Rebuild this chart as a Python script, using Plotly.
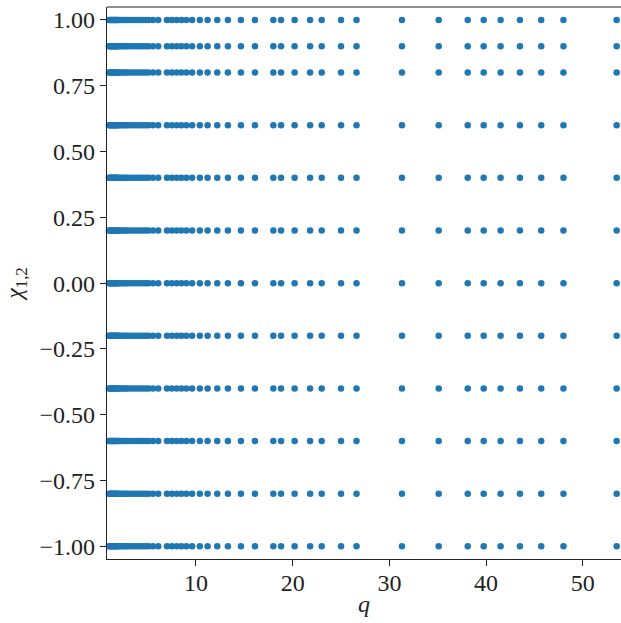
import plotly.graph_objects as go

# mass ratio values q (same set for every spin value)
q_values = [1.0, 1.1, 1.2, 1.3, 1.4, 1.5, 1.6, 1.7, 1.8, 1.9, 2.0, 2.2, 2.4, 2.6, 2.8,
            3.0, 3.3, 3.6, 3.9, 4.2, 4.5, 4.8, 5.1, 5.55, 6.1, 7.0, 7.5, 8.0, 8.5, 9.0,
            9.6, 10.4, 11.2, 12.2, 13.3, 14.65, 16.1, 18.0, 18.8, 20.2, 21.8, 23.0,
            25.0, 26.6, 31.3, 35.1, 38.1, 39.75, 41.5, 43.5, 45.7, 48.0, 53.5]
# spin values chi_{1,2}
chi_values = [1.0, 0.9, 0.8, 0.6, 0.4, 0.2, 0.0, -0.2, -0.4, -0.6, -0.8, -1.0]

y_tickvals = [1.0, 0.75, 0.5, 0.25, 0.0, -0.25, -0.5, -0.75, -1.0]
y_ticktext = ["1.00", "0.75", "0.50", "0.25", "0.00", "−0.25", "−0.50", "−0.75", "−1.00"]
x_tickvals = [10, 20, 30, 40, 50]
x_ticktext = ["10", "20", "30", "40", "50"]

xs, ys = [], []
for c in chi_values:
    for q in q_values:
        xs.append(q)
        ys.append(c)

fig = go.Figure(go.Scatter(
    x=xs, y=ys, mode="markers",
    marker=dict(size=6.5, color="#1f77b4", line=dict(width=0)),
    cliponaxis=False,
))

font = dict(family="Liberation Serif, serif", size=24, color="#222222")
fig.update_layout(
    width=621, height=623,
    margin=dict(l=107, r=0, t=7, b=64),
    paper_bgcolor="white", plot_bgcolor="white",
    showlegend=False,
    font=font,
    xaxis=dict(
        range=[0.8, 53.95], tickvals=x_tickvals, ticktext=x_ticktext,
        showgrid=False, zeroline=False, showline=True, linecolor="#222222", linewidth=1.2,
        ticks="outside", ticklen=6, tickwidth=1.3, tickcolor="#222222",
        ticklabelstandoff=-4,
        title=dict(text="<i>q</i>", font=font, standoff=0),
    ),
    yaxis=dict(
        range=[-1.048, 1.049], tickvals=y_tickvals, ticktext=y_ticktext,
        showgrid=False, zeroline=False, showline=True, linecolor="#222222", linewidth=1.2,
        ticks="outside", ticklen=6, tickwidth=1.3, tickcolor="#222222",
        title=dict(text="<i>χ</i><sub>1,2</sub>", font=font, standoff=10),
    ),
    shapes=[dict(type="line", xref="paper", yref="paper", x0=0, x1=1, y0=1, y1=1,
                 line=dict(color="#222222", width=1.2))],
)

fig.write_html(
    "out.html",
    config={"displayModeBar": False},
    post_script="document.body.style.margin='0';document.body.style.overflow='hidden';",
)
